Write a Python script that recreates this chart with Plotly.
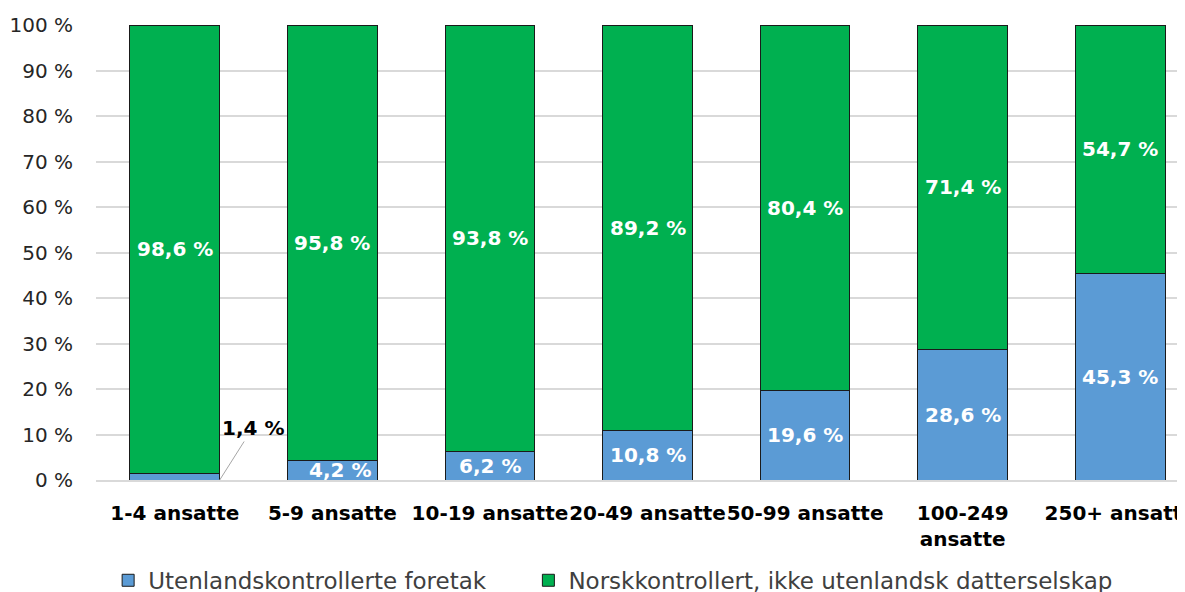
import plotly.graph_objects as go

categories = ["1-4 ansatte", "5-9 ansatte", "10-19 ansatte", "20-49 ansatte",
              "50-99 ansatte", "100-249<br>ansatte", "250+ ansatte"]
utenlandsk = [1.4, 4.2, 6.2, 10.8, 19.6, 28.6, 45.3]
norsk = [98.6, 95.8, 93.8, 89.2, 80.4, 71.4, 54.7]
series_names = ["Utenlandskontrollerte foretak",
                "Norskkontrollert, ikke utenlandsk datterselskap"]
y_ticks = list(range(0, 101, 10))

BLUE = "#5B9BD5"
GREEN = "#00B050"
FONT = "DejaVu Sans"

fig = go.Figure()
fig.add_trace(go.Bar(x=categories, y=utenlandsk, name=series_names[0], legend="legend",
                     showlegend=True,
                     marker=dict(color=BLUE, line=dict(color="#1a1a1a", width=1))))
fig.add_trace(go.Bar(x=categories, y=norsk, name=series_names[1], legend="legend2",
                     showlegend=True,
                     marker=dict(color=GREEN, line=dict(color="#1a1a1a", width=1))))

# value labels
for i, (u, n) in enumerate(zip(utenlandsk, norsk)):
    fig.add_annotation(x=i, y=u + n / 2, text="{} %".format(str(n).replace(".", ",")),
                       showarrow=False, font=dict(family=FONT, size=20, color="white", weight="bold"))
    if i == 0:
        fig.add_annotation(x=0.285, y=0, ax=33, ay=-52, text="{} %".format(str(u).replace(".", ",")),
                           showarrow=True, arrowhead=0, arrowwidth=1, arrowcolor="#a6a6a6",
                           font=dict(family=FONT, size=20, color="black", weight="bold"))
    else:
        fig.add_annotation(x=i, y=u / 2, text="{} %".format(str(u).replace(".", ",")),
                           showarrow=False, xshift=8 if i == 1 else 0,
                           font=dict(family=FONT, size=20, color="white", weight="bold"))

leg = dict(orientation="h", xanchor="left", y=0.02, yanchor="middle", yref="container",
           font=dict(size=23, color="#404040"), itemwidth=30, bgcolor="rgba(0,0,0,0)")

# page body adds 8px offset, so figure is 8px smaller/shifted
fig.update_layout(
    barmode="stack",
    bargap=0.43,
    showlegend=True,
    width=1192, height=584,
    margin=dict(l=88, r=1, t=17, b=112, autoexpand=False),
    plot_bgcolor="white", paper_bgcolor="white",
    font=dict(family=FONT, size=20, color="#262626"),
    legend=dict(leg, x=0.011),
    legend2=dict(leg, x=0.392),
)
fig.update_yaxes(range=[0, 100], tickvals=y_ticks, ticktext=["{} %".format(t) for t in y_ticks],
                 showgrid=True, gridcolor="#d9d9d9", gridwidth=1.5, zeroline=False,
                 ticks="", ticklabelstandoff=22, automargin=False)
fig.update_xaxes(showline=True, linecolor="#d9d9d9", linewidth=1.5, automargin=False,
                 ticklabelstandoff=14, tickangle=0,
                 tickfont=dict(family=FONT, size=20, color="black", weight="bold"))

fig.write_html("out.html")
